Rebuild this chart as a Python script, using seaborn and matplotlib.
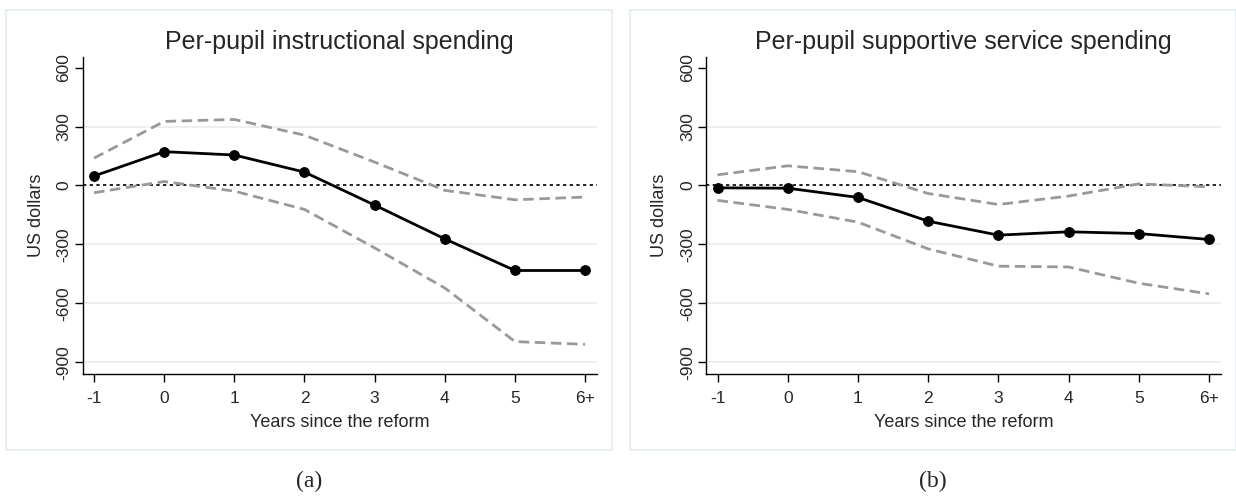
import numpy as np
import pandas as pd
import seaborn as sns
import matplotlib.pyplot as plt
from matplotlib.patches import Rectangle

# Data
years = ["-1", "0", "1", "2", "3", "4", "5", "6+"]

instr_mean = [48, 172, 155, 68, -100, -272, -433, -433]
instr_upper = [139, 326, 336, 256, 119, -25, -73, -59]
instr_lower = [-37, 20, -29, -122, -318, -522, -795, -809]

supp_mean = [-12, -14, -61, -182, -253, -236, -245, -275]
supp_upper = [54, 100, 70, -41, -97, -54, 8, -7]
supp_lower = [-76, -122, -187, -323, -411, -415, -498, -552]

titles = ["Per-pupil instructional spending", "Per-pupil supportive service spending"]
panel_tags = ["(a)", "(b)"]
yticks = [600, 300, 0, -300, -600, -900]

sns.set_style("white")
plt.rcParams["font.family"] = ["Liberation Sans", "DejaVu Sans"]
plt.rcParams["xtick.major.size"] = 6
plt.rcParams["ytick.major.size"] = 6

fig = plt.figure(figsize=(12.36, 4.96), dpi=100)
W, H = 1236, 496

# Stata-like graph region frames
frames = [(6, 612), (630, 1236)]
for x0, x1 in frames:
    fig.patches.append(Rectangle((x0 / W, 1 - 450 / H), (x1 - x0) / W, (450 - 10) / H,
                                 transform=fig.transFigure, fill=False,
                                 edgecolor="#e3ecee", linewidth=1.2))

axes_px = [(82.5, 597), (706, 1221)]
top_px, bot_px = 57, 374

panels = [
    (instr_mean, instr_upper, instr_lower),
    (supp_mean, supp_upper, supp_lower),
]

for i, ((l, r), (m, up, lo)) in enumerate(zip(axes_px, panels)):
    ax = fig.add_axes([l / W, 1 - bot_px / H, (r - l) / W, (bot_px - top_px) / H])
    df = pd.DataFrame({"x": np.arange(len(years)), "mean": m, "upper": up, "lower": lo})

    for y in [300, -300, -600, -900]:
        ax.axhline(y, color="#e6eef0", linewidth=1.2, zorder=0)
    ax.axhline(0, color="black", linestyle=(0, (2, 2)), linewidth=1.2, zorder=1)

    sns.lineplot(data=df, x="x", y="upper", ax=ax, color="#999999", linewidth=2,
                 linestyle=(0, (3.8, 2)), zorder=2)
    sns.lineplot(data=df, x="x", y="lower", ax=ax, color="#999999", linewidth=2,
                 linestyle=(0, (3.8, 2)), zorder=2)
    sns.lineplot(data=df, x="x", y="mean", ax=ax, color="black", linewidth=2,
                 marker="o", markersize=7, markeredgecolor="black", zorder=3)

    ax.set_xlim(-0.164, 7.17)
    ax.set_ylim(-960, 654)
    ax.set_xticks(df["x"])
    ax.set_xticklabels(years)
    ax.set_yticks(yticks)
    ax.set_yticklabels([str(v) for v in yticks], rotation=90, va="center")
    ax.tick_params(axis="both", direction="out", length=6, width=1, color="black",
                   labelsize=12.5, left=True, bottom=True)
    ax.tick_params(axis="x", pad=6)
    ax.tick_params(axis="y", pad=2)
    for s in ["top", "right"]:
        ax.spines[s].set_visible(False)
    for s in ["left", "bottom"]:
        ax.spines[s].set_color("black")
        ax.spines[s].set_linewidth(1)

    ax.set_xlabel("Years since the reform", fontsize=13, labelpad=6)
    ax.set_ylabel("US dollars", fontsize=13, labelpad=8.5)
    ax.set_title(titles[i], fontsize=18, pad=6)

    cx = (frames[i][0] + frames[i][1]) / 2 / W
    fig.text(cx, 1 - 481 / H, panel_tags[i], ha="center", va="center",
             fontsize=17, family=["Liberation Serif", "DejaVu Serif"])

fig.savefig("out.png", dpi=100)
